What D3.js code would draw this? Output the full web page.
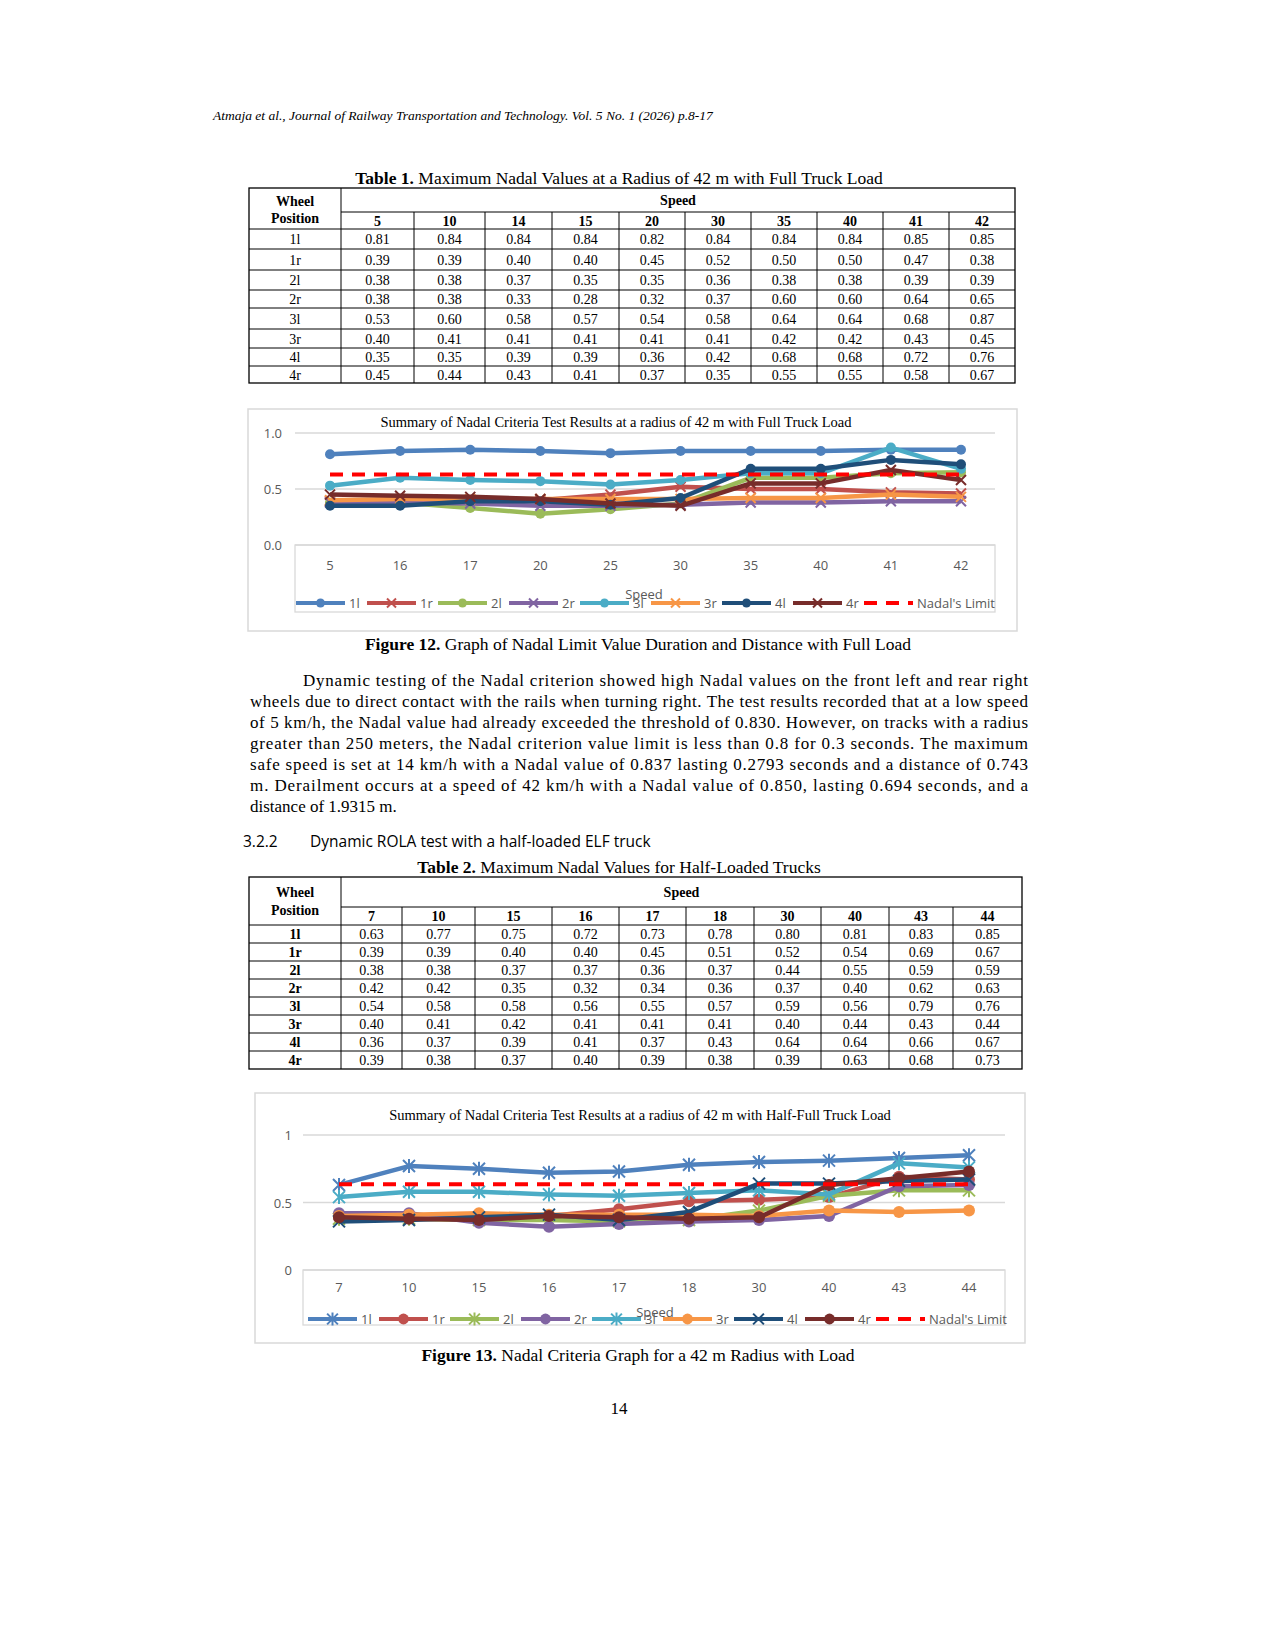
<!DOCTYPE html><html><head><meta charset="utf-8">
<script src="https://cdn.jsdelivr.net/npm/d3@7"></script>
<style>body{margin:0;background:#fff}svg{display:block}</style></head><body>
<svg id="pg" width="1275" height="1650"></svg>
<script>
const positions=["1l","1r","2l","2r","3l","3r","4l","4r"];
const t1Speeds=["5","10","14","15","20","30","35","40","41","42"];
const t1Values=[
["0.81","0.84","0.84","0.84","0.82","0.84","0.84","0.84","0.85","0.85"],
["0.39","0.39","0.40","0.40","0.45","0.52","0.50","0.50","0.47","0.38"],
["0.38","0.38","0.37","0.35","0.35","0.36","0.38","0.38","0.39","0.39"],
["0.38","0.38","0.33","0.28","0.32","0.37","0.60","0.60","0.64","0.65"],
["0.53","0.60","0.58","0.57","0.54","0.58","0.64","0.64","0.68","0.87"],
["0.40","0.41","0.41","0.41","0.41","0.41","0.42","0.42","0.43","0.45"],
["0.35","0.35","0.39","0.39","0.36","0.42","0.68","0.68","0.72","0.76"],
["0.45","0.44","0.43","0.41","0.37","0.35","0.55","0.55","0.58","0.67"]];
const t2Speeds=["7","10","15","16","17","18","30","40","43","44"];
const t2Values=[
["0.63","0.77","0.75","0.72","0.73","0.78","0.80","0.81","0.83","0.85"],
["0.39","0.39","0.40","0.40","0.45","0.51","0.52","0.54","0.69","0.67"],
["0.38","0.38","0.37","0.37","0.36","0.37","0.44","0.55","0.59","0.59"],
["0.42","0.42","0.35","0.32","0.34","0.36","0.37","0.40","0.62","0.63"],
["0.54","0.58","0.58","0.56","0.55","0.57","0.59","0.56","0.79","0.76"],
["0.40","0.41","0.42","0.41","0.41","0.41","0.40","0.44","0.43","0.44"],
["0.36","0.37","0.39","0.41","0.37","0.43","0.64","0.64","0.66","0.67"],
["0.39","0.38","0.37","0.40","0.39","0.38","0.39","0.63","0.68","0.73"]];
const c1Cats=["5","16","17","20","25","30","35","40","41","42"];
const c1Series=[
[0.81,0.84,0.85,0.84,0.82,0.84,0.84,0.84,0.85,0.85],
[0.39,0.39,0.40,0.40,0.45,0.52,0.50,0.50,0.47,0.46],
[0.38,0.38,0.33,0.28,0.32,0.37,0.60,0.60,0.64,0.65],
[0.38,0.38,0.37,0.35,0.35,0.36,0.38,0.38,0.39,0.39],
[0.53,0.60,0.58,0.57,0.54,0.58,0.64,0.64,0.87,0.68],
[0.40,0.41,0.41,0.41,0.41,0.41,0.42,0.42,0.45,0.43],
[0.35,0.35,0.39,0.39,0.36,0.42,0.68,0.68,0.76,0.72],
[0.45,0.44,0.43,0.41,0.37,0.35,0.55,0.55,0.67,0.58]];
const c2Cats=t2Speeds;
const c2Series=t2Values.map(r=>r.map(Number));
const c1Ticks=["0.0","0.5","1.0"], c2Ticks=["0","0.5","1"];
const nadalLimit=[0.63,0.635];
const colors=["#4f81bd","#c0504d","#9bbb59","#8064a2","#4bacc6","#f79646","#1f4e79","#772c2a"];
const c1Markers=["o","x","o","x","o","x","o","x"];
const c2Markers=["*","o","*","o","*","o","x","o"];
const legendLabels=["1l","1r","2l","2r","3l","3r","4l","4r","Nadal's Limit"];

const svg=d3.select("#pg");
const serif="'Liberation Serif','Times New Roman',serif";
const sans="'Open Sans','Liberation Sans',sans-serif";
function txt(x,y,s,o={}){const t=svg.append("text").attr("x",x).attr("y",y).text(s)
 .attr("font-family",o.f||serif).attr("font-size",o.s||15).attr("fill",o.c||"#000")
 .attr("text-anchor",o.a||"start");if(o.w)t.attr("font-weight",o.w);if(o.i)t.attr("font-style","italic");
 if(o.L){t.attr("textLength",o.L).attr("lengthAdjust","spacing");}return t;}
function caption(x,y,b,rest){const t=svg.append("text").attr("x",x).attr("y",y).attr("text-anchor","middle")
 .attr("font-family",serif).attr("font-size",17.5);
 t.append("tspan").attr("font-weight","bold").text(b);t.append("tspan").text(rest);}

txt(213,120,"Atmaja et al., Journal of Railway Transportation and Technology. Vol. 5 No. 1 (2026) p.8-17",{i:1,s:13.5});

function table(cfg){
 const {x0,cols,rows,top,speedLine,speeds,vals,bold}=cfg;
 const g=svg.append("g").attr("stroke","#000").attr("stroke-width",1);
 const x1=cols[cols.length-1],yb=rows[rows.length-1];
 g.append("rect").attr("x",x0).attr("y",top).attr("width",x1-x0).attr("height",yb-top).attr("fill","none").attr("stroke-width",1.3);
 g.append("line").attr("x1",cols[0]).attr("x2",cols[0]).attr("y1",top).attr("y2",yb);
 g.append("line").attr("x1",cols[0]).attr("x2",x1).attr("y1",speedLine).attr("y2",speedLine);
 cols.slice(1,-1).forEach(c=>g.append("line").attr("x1",c).attr("x2",c).attr("y1",speedLine).attr("y2",yb));
 rows.slice(0,-1).forEach(r=>g.append("line").attr("x1",x0).attr("x2",x1).attr("y1",r).attr("y2",r));
 const wc=(x0+cols[0])/2;
 txt(wc,cfg.wy[0],"Wheel",{a:"middle",w:"bold",s:14});
 txt(wc,cfg.wy[1],"Position",{a:"middle",w:"bold",s:14});
 txt((cols[0]+x1)/2,cfg.sy,"Speed",{a:"middle",w:"bold",s:14});
 speeds.forEach((s,i)=>txt((cols[i]+cols[i+1])/2,(speedLine+rows[0])/2+5,s,{a:"middle",w:"bold",s:14}));
 vals.forEach((r,j)=>{const cy=(rows[j]+rows[j+1])/2+5;
  txt(wc,cy,positions[j],{a:"middle",s:14,w:bold?"bold":null});
  r.forEach((v,i)=>txt((cols[i]+cols[i+1])/2,cy,v,{a:"middle",s:14}));});
}
caption(619,184,"Table 1.", " Maximum Nadal Values at a Radius of 42 m with Full Truck Load");
table({x0:249,cols:[341,414,485,552,619,685,751,817,883,949,1015],top:188,speedLine:212,
 rows:[229,249,270,290,308,329,348,366,383],wy:[206,223],sy:205,speeds:t1Speeds,vals:t1Values,bold:false});

function marker(g,type,x,y,c,r){
 if(type==="o"){g.append("circle").attr("cx",x).attr("cy",y).attr("r",r).attr("fill",c);}
 else{const p=g.append("path").attr("stroke",c).attr("stroke-width",2).attr("fill","none");
  let d=`M${x-r},${y-r}L${x+r},${y+r}M${x-r},${y+r}L${x+r},${y-r}`;
  if(type==="*")d+=`M${x},${y-r-1}L${x},${y+r+1}`;p.attr("d",d);}
}
function chart(cfg){
 const g=svg.append("g");
 g.append("rect").attr("x",cfg.box[0]).attr("y",cfg.box[1]).attr("width",cfg.box[2]).attr("height",cfg.box[3])
  .attr("fill","#fff").attr("stroke","#d9d9d9").attr("stroke-width",1.5);
 const x=d3.scalePoint().domain(cfg.cats).range(cfg.xr);
 const y=d3.scaleLinear().domain([0,1]).range(cfg.yr);
 cfg.ticks.forEach(t=>{g.append("line").attr("x1",cfg.gx[0]).attr("x2",cfg.gx[1]).attr("y1",y(+t)).attr("y2",y(+t))
  .attr("stroke","#d9d9d9").attr("stroke-width",1.3);
  g.append("text").attr("x",cfg.ylx).attr("y",y(+t)+5).attr("text-anchor","end").attr("font-family",sans)
  .attr("font-size",13).attr("fill","#595959").text(t);});
 g.append("rect").attr("x",cfg.gx[0]).attr("y",cfg.yr[0]).attr("width",cfg.gx[1]-cfg.gx[0]).attr("height",cfg.bh)
  .attr("fill","none").attr("stroke","#d9d9d9").attr("stroke-width",1.3);
 g.append("text").attr("x",cfg.title[0]).attr("y",cfg.title[1]).attr("text-anchor","middle").attr("font-family",serif)
  .attr("font-size",14.5).text(cfg.titleText);
 cfg.cats.forEach(c=>g.append("text").attr("x",x(c)).attr("y",cfg.xly).attr("text-anchor","middle")
  .attr("font-family",sans).attr("font-size",13).attr("fill","#595959").text(c));
 const line=d3.line().x((d,i)=>x(cfg.cats[i])).y(d=>y(d));
 cfg.series.forEach((s,k)=>{
  g.append("path").attr("d",line(s)).attr("fill","none").attr("stroke",colors[k]).attr("stroke-width",4.5).attr("stroke-linejoin","round");
  s.forEach((v,i)=>marker(g,cfg.markers[k],x(cfg.cats[i]),y(v),colors[k],cfg.mr));
 });
 g.append("line").attr("x1",x(cfg.cats[0])).attr("x2",x(cfg.cats[cfg.cats.length-1])).attr("y1",y(cfg.limit)).attr("y2",y(cfg.limit))
  .attr("stroke","#ff0000").attr("stroke-width",4).attr("stroke-dasharray","13,9");
 legendLabels.forEach((l,i)=>{const lx=cfg.lx+71*i, ly=cfg.ly;
  if(i<8){g.append("line").attr("x1",lx).attr("x2",lx+49).attr("y1",ly).attr("y2",ly).attr("stroke",colors[i]).attr("stroke-width",4);
   marker(g,cfg.markers[i],lx+24.5,ly,colors[i],cfg.mr*0.9);}
  else g.append("line").attr("x1",lx).attr("x2",lx+49).attr("y1",ly).attr("y2",ly).attr("stroke","#ff0000").attr("stroke-width",4).attr("stroke-dasharray","13,9");
  g.append("text").attr("x",lx+53).attr("y",ly+5).attr("font-family",sans).attr("font-size",13).attr("fill","#595959").text(l);
 });
 g.append("text").attr("x",cfg.speed[0]).attr("y",cfg.speed[1]).attr("text-anchor","middle").attr("font-family",sans)
  .attr("font-size",13).attr("fill","#595959").text("Speed");
}
chart({box:[248,409,769,222],cats:c1Cats,series:c1Series,markers:c1Markers,xr:[330,961],yr:[545,433],gx:[295,995],
 ticks:c1Ticks,ylx:282,bh:67,title:[616,427],titleText:"Summary of Nadal Criteria Test Results at a radius of 42 m with Full Truck Load",
 xly:570,limit:nadalLimit[0],lx:296,ly:603,speed:[644,599],mr:5});
caption(638,650,"Figure 12.", " Graph of Nadal Limit Value Duration and Distance with Full Load");

const para=["Dynamic testing of the Nadal criterion showed high Nadal values on the front left and rear right",
"wheels due to direct contact with the rails when turning right. The test results recorded that at a low speed",
"of 5 km/h, the Nadal value had already exceeded the threshold of 0.830. However, on tracks with a radius",
"greater than 250 meters, the Nadal criterion value limit is less than 0.8 for 0.3 seconds. The maximum",
"safe speed is set at 14 km/h with a Nadal value of 0.837 lasting 0.2793 seconds and a distance of 0.743",
"m. Derailment occurs at a speed of 42 km/h with a Nadal value of 0.850, lasting 0.694 seconds, and a",
"distance of 1.9315 m."];
para.forEach((l,i)=>{const x0=i===0?303:250;
 txt(x0,686+21*i,l,{s:17,L:i<para.length-1?1028-x0:null});});
txt(243,847,"3.2.2",{f:sans,s:15.5});
txt(310,847,"Dynamic ROLA test with a half-loaded ELF truck",{f:sans,s:15.5});
caption(619,873,"Table 2.", " Maximum Nadal Values for Half-Loaded Trucks");
table({x0:249,cols:[341,402,475,552,619,686,754,821,889,953,1022],top:877,speedLine:907,
 rows:[925,943,961,979,997,1015,1033,1051,1069],wy:[897,915],sy:897,speeds:t2Speeds,vals:t2Values,bold:true});

chart({box:[255,1093,770,250],cats:c2Cats,series:c2Series,markers:c2Markers,xr:[339,969],yr:[1270,1135],gx:[303,1005],
 ticks:c2Ticks,ylx:292,bh:55,title:[640,1120],titleText:"Summary of Nadal Criteria Test Results at a radius of 42 m with Half-Full Truck Load",
 xly:1292,limit:nadalLimit[1],lx:308,ly:1319,speed:[655,1317],mr:6});
caption(638,1361,"Figure 13.", " Nadal Criteria Graph for a 42 m Radius with Load");
txt(619,1414,"14",{a:"middle",s:17});
</script></body></html>
